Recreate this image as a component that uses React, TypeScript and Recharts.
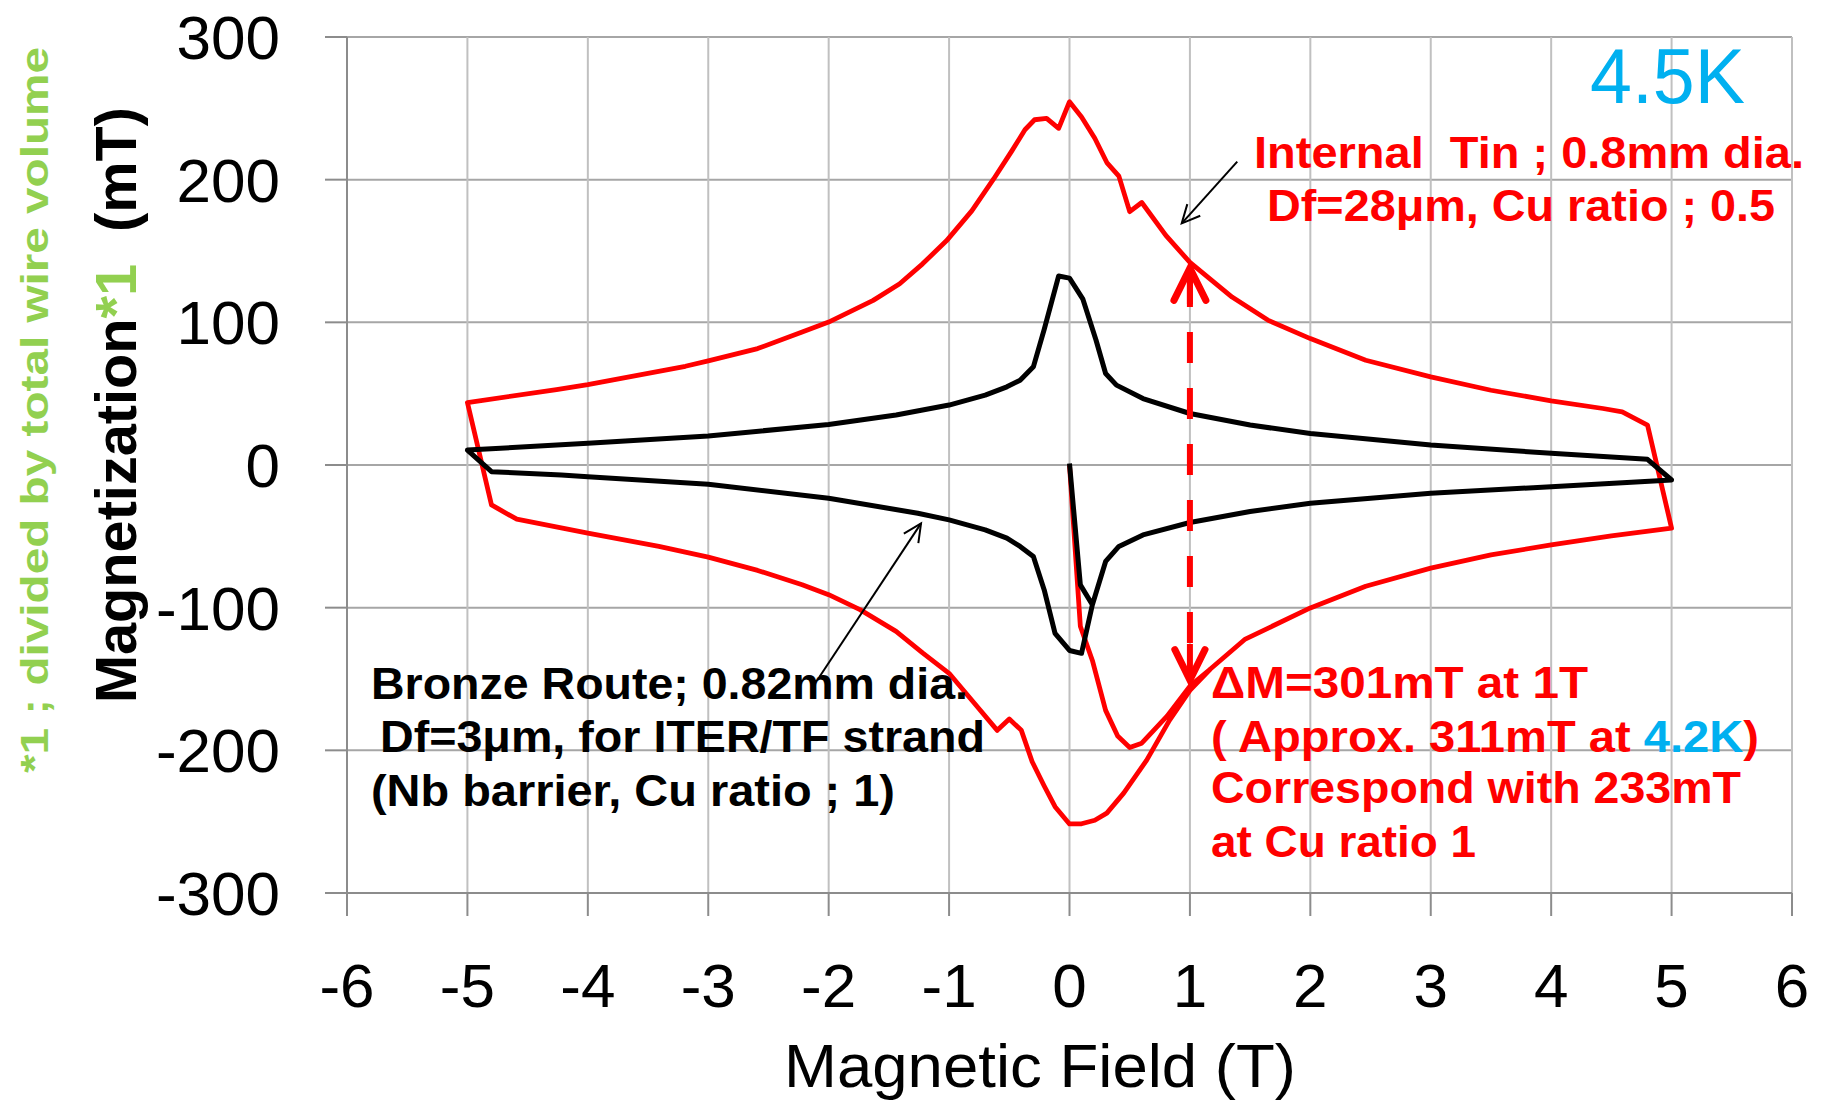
import { LineChart, Line, XAxis, YAxis, CartesianGrid, ReferenceLine } from "recharts";

// field (T) ticks and magnetization (mT) ticks
const FIELD_TICKS = [-6, -5, -4, -3, -2, -1, 0, 1, 2, 3, 4, 5, 6];
const MAG_TICKS = [-300, -200, -100, 0, 100, 200, 300];

// Internal tin strand, 0.8mm dia. (virgin -> +5T -> -5T -> +5T)
const tinField = [
  0, 0.09, 0.19, 0.3, 0.4, 0.5, 0.6, 0.81, 1.0, 1.17, 1.46, 2.0, 2.46, 3.0, 3.5, 4.0, 4.5, 5.0,
  4.8, 4.59, 4.43, 4.0, 3.5, 3.0, 2.46, 2.0, 1.65, 1.35, 1.0, 0.8, 0.6, 0.5, 0.41, 0.31, 0.21, 0.1, 0,
  -0.09, -0.19, -0.29, -0.37, -0.48, -0.63, -0.81, -1.02, -1.22, -1.41, -1.63, -2.0, -2.22, -2.59,
  -3.0, -3.19, -4.0, -4.26, -5.0,
  -4.8, -4.59, -4.0, -3.41, -3.0, -2.59, -2.22, -2.0, -1.74, -1.44, -1.22, -1.0, -0.79, -0.6, -0.5,
  -0.4, -0.31, -0.21, -0.12, 0, 0.1, 0.21, 0.31, 0.45, 0.64, 0.83, 1.0, 1.17, 1.46, 2.0, 2.46, 3.0,
  3.5, 4.0, 4.5, 5.0,
];
const tinMag = [
  0, -113, -137, -172, -190, -198, -195, -176, -155, -143, -122, -100.2, -85, -72.3, -63, -56, -49.7, -44.3,
  28, 37.3, 39.6, 45, 52.4, 61.8, 73.4, 88.6, 101.4, 117.7, 142, 161, 184, 177.6, 202.5, 212, 229, 244, 254.6,
  236, 243, 242, 235, 220, 200.5, 178.3, 157.3, 141, 127, 115.4, 100.2, 93.2, 81.6,
  73, 69.2, 56.4, 52.9, 43.8,
  -28, -38, -47.8, -57.1, -64.6, -73.9, -83.9, -90.9, -101.4, -116.6, -131.7, -146, -167, -186, -178,
  -186, -208, -225, -239.5, -251.6, -251.5, -249, -244, -230, -207, -179, -158, -143, -122, -100.2, -85, -72.3,
  -63, -56, -49.7, -44.3,
];

// Bronze route strand, 0.82mm dia. (ITER/TF)
const bronzeField = [
  0, 0.09, 0.19, 0.3, 0.41, 0.61, 1.0, 1.5, 2.0, 3.0, 4.0, 5.0,
  4.8, 4.0, 3.0, 2.0, 1.5, 1.0, 0.61, 0.39, 0.3, 0.22, 0.11, 0, -0.09, -0.21, -0.3, -0.41, -0.52,
  -0.7, -1.0, -1.44, -2.0, -3.0, -4.0, -5.0,
  -4.8, -4.22, -4.0, -3.0, -2.0, -1.26, -1.0, -0.7, -0.52, -0.41, -0.3, -0.21, -0.12, 0, 0.1, 0.19,
  0.3, 0.41, 0.61, 1.0, 1.5, 2.0, 3.0, 4.0, 5.0,
];
const bronzeMag = [
  1, -84, -98, -67.6, -57.1, -49, -40.3, -32.6, -26.8, -19.8, -15.2, -10.5,
  4, 8.2, 14, 22.1, 28, 36.1, 46.6, 56, 64.1, 87.6, 116.5, 131, 132.5, 95, 68.8, 59.4, 54.8,
  49, 42, 35, 28.4, 20.3, 15.2, 10.5,
  -4.7, -7, -8.2, -13.5, -23.3, -33.8, -38.5, -45.5, -51.3, -57.1, -64.1, -87.6, -118, -130, -132, -98,
  -67.6, -57.1, -49, -40.3, -32.6, -26.8, -19.8, -15.2, -10.5,
];

// annotation arrows, in data units [field, magnetization]
const deltaAt = 1;
const deltaTop = 138;
const deltaBottom = -150.7;
const tinPointer = [
  [1.393, 212.6],
  [0.932, 169.4],
];
const bronzePointer = [
  [-2.076, -148.4],
  [-1.233, -40.9],
];

const tinData = tinField.map((h, i) => ({ h, m: tinMag[i] }));
const bronzeData = bronzeField.map((h, i) => ({ h, m: bronzeMag[i] }));

const RED = "#ff0000";
const BLUE = "#00b0f0";
const GREEN = "#92d050";
const AXIS = "#8c8c8c";
const SANS = "'Liberation Sans', Arial, sans-serif";

function headPath(tx: number, ty: number, fx: number, fy: number, len: number, ang: number) {
  const a = Math.atan2(ty - fy, tx - fx);
  const ax = tx - len * Math.cos(a - ang);
  const ay = ty - len * Math.sin(a - ang);
  const bx = tx - len * Math.cos(a + ang);
  const by = ty - len * Math.sin(a + ang);
  return `M${ax},${ay} L${tx},${ty} L${bx},${by}`;
}

const pointerShape = (props: any) => {
  const { x1, y1, x2, y2 } = props;
  return (
    <g>
      <line x1={x1} y1={y1} x2={x2} y2={y2} stroke="#000" strokeWidth={2} />
      <path d={headPath(x2, y2, x1, y1, 20, 0.45)} fill="none" stroke="#000" strokeWidth={2} />
    </g>
  );
};

const deltaShape = (props: any) => {
  const { x1, y1, x2, y2 } = props;
  return (
    <g>
      <line
        x1={x1}
        y1={y1}
        x2={x2}
        y2={y2}
        stroke={RED}
        strokeWidth={6}
        strokeDasharray="31 25"
        strokeDashoffset={48}
      />
      <line x1={x1} y1={y1} x2={x1} y2={y1 + 36} stroke={RED} strokeWidth={6} />
      <line x1={x2} y1={y2} x2={x2} y2={y2 - 36} stroke={RED} strokeWidth={6} />
      <path d={headPath(x1, y1, x2, y2, 36, 0.46)} fill="none" stroke={RED} strokeWidth={7} strokeLinecap="round" />
      <path d={headPath(x2, y2, x1, y1, 34, 0.46)} fill="none" stroke={RED} strokeWidth={7} strokeLinecap="round" />
    </g>
  );
};

const boldNote = {
  fontFamily: SANS,
  fontWeight: 700,
  fontSize: 45,
  whiteSpace: "pre" as const,
};

export default function App() {
  return (
    <div style={{ position: "absolute", left: 0, top: 0, width: 1827, height: 1106, background: "#fff" }}>
      <LineChart width={1827} height={1106} margin={{ top: 37, right: 35, bottom: 0, left: 0 }}>
        <CartesianGrid vertical={false} stroke="#a6a6a6" strokeWidth={2} />
        <CartesianGrid horizontal={false} stroke="#c0c0c0" strokeWidth={2} />
        <XAxis
          type="number"
          dataKey="h"
          domain={[-6, 6]}
          ticks={FIELD_TICKS}
          interval={0}
          height={213}
          tickSize={23}
          tickMargin={47}
          axisLine={{ stroke: AXIS, strokeWidth: 2 }}
          tickLine={{ stroke: AXIS, strokeWidth: 2 }}
          tick={{ fill: "#000", fontSize: 62, fontFamily: SANS }}
          allowDataOverflow
        />
        <YAxis
          type="number"
          dataKey="m"
          domain={[-300, 300]}
          ticks={MAG_TICKS}
          interval={0}
          width={347}
          tickSize={22}
          tickMargin={45}
          axisLine={{ stroke: AXIS, strokeWidth: 2 }}
          tickLine={{ stroke: AXIS, strokeWidth: 2 }}
          tick={{ fill: "#000", fontSize: 62, fontFamily: SANS }}
          allowDataOverflow
        />
        <Line
          data={tinData}
          dataKey="m"
          type="linear"
          stroke={RED}
          strokeWidth={4.8}
          strokeLinejoin="round"
          dot={false}
          activeDot={false}
          isAnimationActive={false}
        />
        <Line
          data={bronzeData}
          dataKey="m"
          type="linear"
          stroke="#000"
          strokeWidth={5}
          strokeLinejoin="round"
          dot={false}
          activeDot={false}
          isAnimationActive={false}
        />
        <ReferenceLine
          segment={[
            { x: deltaAt, y: deltaTop },
            { x: deltaAt, y: deltaBottom },
          ]}
          shape={deltaShape}
        />
        <ReferenceLine
          segment={[
            { x: tinPointer[0][0], y: tinPointer[0][1] },
            { x: tinPointer[1][0], y: tinPointer[1][1] },
          ]}
          shape={pointerShape}
        />
        <ReferenceLine
          segment={[
            { x: bronzePointer[0][0], y: bronzePointer[0][1] },
            { x: bronzePointer[1][0], y: bronzePointer[1][1] },
          ]}
          shape={pointerShape}
        />
      </LineChart>

      <svg
        width={1827}
        height={1106}
        style={{ position: "absolute", left: 0, top: 0, pointerEvents: "none" }}
      >
        {/* axis titles */}
        <text x={784} y={1087} fontFamily={SANS} fontSize={62} fill="#000" textLength={512} lengthAdjust="spacingAndGlyphs">
          Magnetic Field (T)
        </text>
        <text
          transform="translate(136,703) rotate(-90)"
          fontFamily={SANS}
          fontWeight={700}
          fontSize={57}
          fill="#000"
          textLength={596}
          lengthAdjust="spacingAndGlyphs"
          style={{ whiteSpace: "pre" }}
        >
          Magnetization<tspan fill={GREEN}>*1</tspan>  (mT)
        </text>
        <text
          transform="translate(48,773) rotate(-90)"
          fontFamily={SANS}
          fontWeight={700}
          fontSize={38}
          fill={GREEN}
          textLength={726}
          lengthAdjust="spacingAndGlyphs"
          style={{ whiteSpace: "pre" }}
        >
          *1 ; divided by total wire volume
        </text>

        {/* temperature */}
        <text x={1590} y={103} fontFamily={SANS} fontSize={77} fill={BLUE} textLength={155} lengthAdjust="spacingAndGlyphs">
          4.5K
        </text>

        {/* internal tin label */}
        <text x={1254} y={168} fill={RED} textLength={550} lengthAdjust="spacingAndGlyphs" style={boldNote}>
          Internal  Tin ; 0.8mm dia.
        </text>
        <text x={1267} y={221} fill={RED} textLength={508} lengthAdjust="spacingAndGlyphs" style={boldNote}>
          Df=28μm, Cu ratio ; 0.5
        </text>

        {/* bronze label */}
        <text x={371} y={699} fill="#000" textLength={597} lengthAdjust="spacingAndGlyphs" style={boldNote}>
          Bronze Route; 0.82mm dia.
        </text>
        <text x={380} y={752} fill="#000" textLength={605} lengthAdjust="spacingAndGlyphs" style={boldNote}>
          Df=3μm, for ITER/TF strand
        </text>
        <text x={371} y={806} fill="#000" textLength={524} lengthAdjust="spacingAndGlyphs" style={boldNote}>
          (Nb barrier, Cu ratio ; 1)
        </text>

        {/* delta M note */}
        <text x={1211} y={698} fill={RED} textLength={377} lengthAdjust="spacingAndGlyphs" style={boldNote}>
          ΔM=301mT at 1T
        </text>
        <text x={1211} y={752} fill={RED} textLength={548} lengthAdjust="spacingAndGlyphs" style={boldNote}>
          ( Approx. 311mT at <tspan fill={BLUE}>4.2K</tspan>)
        </text>
        <text x={1211} y={803} fill={RED} textLength={530} lengthAdjust="spacingAndGlyphs" style={boldNote}>
          Correspond with 233mT
        </text>
        <text x={1211} y={857} fill={RED} textLength={265} lengthAdjust="spacingAndGlyphs" style={boldNote}>
          at Cu ratio 1
        </text>
      </svg>
    </div>
  );
}
